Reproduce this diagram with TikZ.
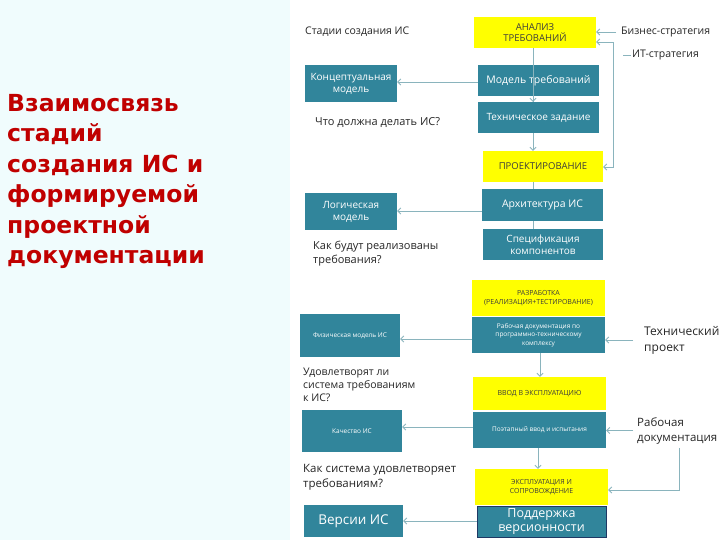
\documentclass[tikz,border=0pt]{standalone}
\usepackage{fontspec}
\setmainfont{Open Sans}
\newfontfamily\titlefont{DejaVu Sans}
\usetikzlibrary{arrows.meta}
\definecolor{boxteal}{RGB}{49,133,155}
\definecolor{boxyellow}{RGB}{255,255,0}
\definecolor{stagetext}{RGB}{60,60,60}
\definecolor{linkcol}{RGB}{138,180,189}
\definecolor{titlered}{RGB}{192,0,0}
\definecolor{bgcyan}{RGB}{240,252,253}
\definecolor{navy}{RGB}{31,56,100}

\begin{document}
\begin{tikzpicture}[x=1pt, y=-1pt,
  stage/.style 2 args={fill=boxyellow, text=stagetext, inner sep=0pt, align=center, minimum width=#1, minimum height=#2},
  doc/.style 2 args={fill=boxteal, text=white, inner sep=0pt, align=center, minimum width=#1, minimum height=#2},
  note/.style={anchor=west, inner sep=1pt, align=left, text=black!85, font=\fontsize{11}{14}\selectfont},
  conn/.style={draw=linkcol, line width=0.8pt},
  arr/.style={conn, -{Straight Barb[length=3pt, width=6pt]}}]
\useasboundingbox (0,0) rectangle (720,540);
\fill[white] (0,0) rectangle (720,540);
\fill[bgcyan] (0,0) rectangle (290,540);
% title
\node[anchor=north west, inner sep=0pt, align=left, text=titlered, font=\titlefont\bfseries\fontsize{23.5}{30.5}\selectfont] (Title) at (7,94) {Взаимосвязь\\стадий\\создания ИС и\\формируемой\\проектной\\документации};
% stage 1
\node[note, font=\fontsize{10.5}{13}\selectfont] (Head) at (304,32) {Стадии создания ИС};
\node[stage={122pt}{31pt}, font=\fontsize{9.5}{11}\selectfont] (S1N0) at (535,32.5) {АНАЛИЗ\\ТРЕБОВАНИЙ};
\node[doc={121pt}{31pt}, font=\fontsize{10.5}{12}\selectfont] (S1N1) at (538.5,80.5) {Модель требований};
\node[doc={121pt}{31pt}, font=\fontsize{10}{12}\selectfont] (S1N2) at (538.5,117.5) {Техническое задание};
\node[doc={92pt}{37pt}, font=\fontsize{10}{12}\selectfont] (S1L1) at (351,83.5) {Концептуальная\\модель};
\node[note] (S1Q) at (314,123) {Что должна делать ИС?};
\node[note, font=\fontsize{10.5}{13}\selectfont] (Bs) at (620,32) {Бизнес-стратегия};
\node[note, font=\fontsize{10.5}{13}\selectfont] (It) at (631,55) {ИТ-стратегия};
% stage 2
\node[stage={120pt}{31pt}, font=\fontsize{9.5}{11}\selectfont] (S2N0) at (543,166.5) {ПРОЕКТИРОВАНИЕ};
\node[doc={121pt}{32pt}, font=\fontsize{10.5}{12}\selectfont] (S2N1) at (542.5,205) {Архитектура ИС};
\node[doc={120pt}{31pt}, font=\fontsize{10}{12}\selectfont] (S2N2) at (543,244.5) {Спецификация\\компонентов};
\node[doc={92pt}{37pt}, font=\fontsize{10}{12}\selectfont] (S2L1) at (351,211.5) {Логическая\\модель};
\node[note] (S2Q) at (312,254) {Как будут реализованы\\требования?};
% stage 3
\node[stage={133pt}{36pt}, font=\fontsize{7}{9}\selectfont] (S3N0) at (538.5,298) {РАЗРАБОТКА\\(РЕАЛИЗАЦИЯ+ТЕСТИРОВАНИЕ)};
\node[doc={133pt}{36pt}, font=\fontsize{6.5}{8.5}\selectfont] (S3N1) at (538.5,335) {Рабочая документация по\\программно-техническому\\комплексу};
\node[doc={100pt}{43pt}, font=\fontsize{6.5}{8.5}\selectfont] (S3L1) at (350,335.5) {Физическая модель ИС};
\node[note, font=\fontsize{12}{16}\selectfont] (Tp) at (643,340) {Технический\\проект};
\node[note, font=\fontsize{10.5}{13}\selectfont] (S3Q) at (302,385) {Удовлетворят ли\\система требованиям\\к ИС?};
% stage 4
\node[stage={133pt}{33pt}, font=\fontsize{7}{9}\selectfont] (S4N0) at (539.5,393.5) {ВВОД В ЭКСПЛУАТАЦИЮ};
\node[doc={133pt}{36pt}, font=\fontsize{6.5}{8.5}\selectfont] (S4N1) at (539.5,430) {Поэтапный ввод и испытания};
\node[doc={100pt}{42pt}, font=\fontsize{6.5}{8.5}\selectfont] (S4L1) at (352,431) {Качество ИС};
\node[note, font=\fontsize{11.5}{15}\selectfont] (Rd) at (636,430.5) {Рабочая\\документация};
\node[note, font=\fontsize{11.5}{15}\selectfont] (S4Q) at (302,477.5) {Как система удовлетворяет\\требованиям?};
% stage 5
\node[stage={133pt}{36pt}, font=\fontsize{7}{9}\selectfont] (S5N0) at (541.5,487) {ЭКСПЛУАТАЦИЯ И\\СОПРОВОЖДЕНИЕ};
\node[doc={129pt}{31pt}, draw=navy, line width=1pt, font=\fontsize{12.5}{14}\selectfont] (S5N1) at (541.5,521.5) {Поддержка\\версионности};
\node[doc={99pt}{32pt}, font=\fontsize{13.5}{16}\selectfont] (S5L1) at (353.5,521) {Версии ИС};
% connectors
\coordinate (ItA) at (613,42);
\coordinate (ItB) at (613,167);
\coordinate (ItD) at (623,55);
\draw[arr] (S1N0.south -| 533,0) -- (S1N2.north -| 533,0 |- S1N1.north);
\draw[arr] (S1N1.west |- 0,82) -- (S1L1.east |- 0,82);
\draw[conn] (S1N1.south -| 533,0) -- (S1N2.north -| 533,0);
\draw[arr] (S1N2.south -| 533,0) -- (S2N0.north -| 533,0);
\draw[arr] (Bs.west) ++(-4,0) -- (Bs.west -| S1N0.east);
\draw[arr, {Straight Barb[length=3pt, width=6pt]}-{Straight Barb[length=3pt, width=6pt]}] (S1N0.east |- ItA) -- (ItA) -- (ItB) -- (S2N0.east |- ItB);
\draw[conn] (ItD) -- (It.west);
\draw[conn] (S2N0.south -| 533,0) -- (S2N1.north -| 533,0);
\draw[arr] (S2N1.west |- 0,211) -- (S2L1.east |- 0,211);
\draw[conn] (S2N1.south -| 533,0) -- (S2N2.north -| 533,0);
\draw[arr] (S3N1.west |- 0,339) -- (S3L1.east |- 0,339);
\draw[arr] (Tp.west) ++(-10,0) -- (Tp.west -| S3N1.east);
\draw[arr] (S3N1.south -| 540,0) -- (S4N0.north -| 540,0);
\draw[arr] (S4N1.west |- 0,427) -- (S4L1.east |- 0,427);
\draw[arr] (Rd.west) ++(-3,0) -- (Rd.west -| S4N1.east);
\draw[arr] (S4N1.south -| 538,0) -- (S5N0.north -| 538,0);
\draw[arr] (Rd.south) ++(2,3) |- (S5N0.east |- 0,490);
\draw[arr] (S5N1.west |- 0,521) -- (S5L1.east |- 0,521);
\end{tikzpicture}
\end{document}
